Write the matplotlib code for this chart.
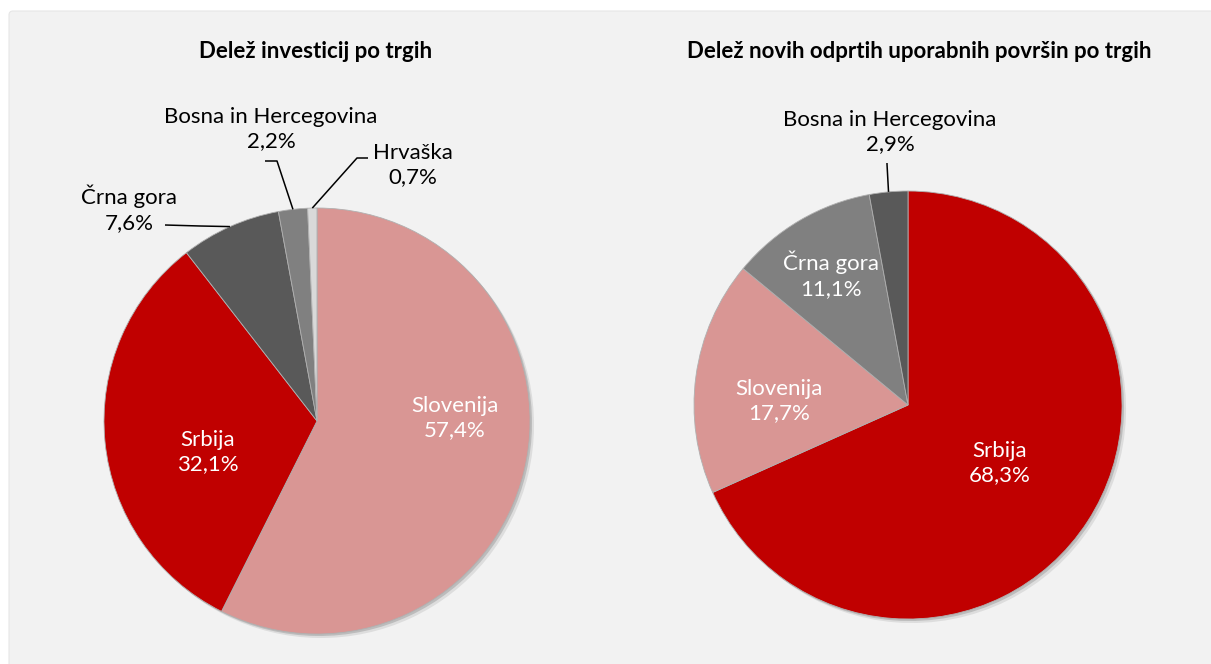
import matplotlib
matplotlib.use("Agg")
import matplotlib.pyplot as plt
from matplotlib.patches import FancyBboxPatch
import numpy as np

plt.rcParams['font.family'] = ['Lato', 'DejaVu Sans']

# data
left_title = 'Delež investicij po trgih'
left_labels = ['Slovenija', 'Srbija', 'Črna gora', 'Bosna in Hercegovina', 'Hrvaška']
left_values = [57.4, 32.1, 7.6, 2.2, 0.7]
left_colors = ['#d99694', '#c00000', '#595959', '#808080', '#d9d9d9']

right_title = 'Delež novih odprtih uporabnih površin po trgih'
right_labels = ['Srbija', 'Slovenija', 'Črna gora', 'Bosna in Hercegovina']
right_values = [68.3, 17.7, 11.1, 2.9]
right_colors = ['#c00000', '#d99694', '#808080', '#595959']

W, H = 1211, 664


def fmt(v):
    return f'{v:.1f}%'.replace('.', ',')


def y(py):
    # pixel row -> data y
    return H - py


def mid_angle(values, i):
    tot = sum(values)
    before = sum(values[:i])
    frac = (before + values[i] / 2) / tot
    return np.deg2rad(90 - 360 * frac)


def draw_pie(ax, values, colors, center, radius, explode):
    # soft shadow first
    for off, a in [(4, 0.18), (2, 0.35)]:
        ax.pie(values, colors=['#7f7f7f'] * len(values), startangle=90,
               counterclock=False, center=(center[0] + off, center[1] - off),
               radius=radius, explode=explode,
               wedgeprops=dict(linewidth=0, alpha=a))
    ax.pie(values, colors=colors, startangle=90, counterclock=False,
           center=center, radius=radius, explode=explode,
           wedgeprops=dict(linewidth=0.6, edgecolor='#b0b0b0'))


fig = plt.figure(figsize=(W / 100, H / 100), dpi=100)
fig.patch.set_facecolor('white')
ax = fig.add_axes([0, 0, 1, 1])

panel = FancyBboxPatch((9, -20), W + 20, y(11) + 20,
                       boxstyle='round,pad=0,rounding_size=4',
                       facecolor='#f2f2f2', edgecolor='#e6e6e6', linewidth=0.8, zorder=-5)
ax.add_patch(panel)

# left pie
lc = (317, y(421))
lr = 213
draw_pie(ax, left_values, left_colors, lc, lr, [0.03, 0, 0, 0, 0])

# right pie
rc = (908, y(405))
rr = 214
draw_pie(ax, right_values, right_colors, rc, rr, [0.028, 0, 0, 0])

ax.set_xlim(0, W)
ax.set_ylim(0, H)
ax.set_aspect('equal')
ax.axis('off')

tkw = dict(ha='center', va='center', fontsize=16, fontweight='bold', color='black')
ax.text(316, y(52), left_title, **tkw)
ax.text(919, y(52), right_title, **tkw)

lkw = dict(ha='center', va='center', fontsize=16, linespacing=1.3)

# inside labels
ax.text(455, y(418), f'{left_labels[0]}\n{fmt(left_values[0])}', color='white', **lkw)
ax.text(208, y(452), f'{left_labels[1]}\n{fmt(left_values[1])}', color='white', **lkw)
ax.text(1000, y(463), f'{right_labels[0]}\n{fmt(right_values[0])}', color='white', **lkw)
ax.text(779, y(401), f'{right_labels[1]}\n{fmt(right_values[1])}', color='white', **lkw)
ax.text(831, y(275), f'{right_labels[2]}\n{fmt(right_values[2])}', color='white', **lkw)

# outside labels with leader lines
def outside(values, i, center, radius, text_xy, elbow, start, labels):
    ax.text(text_xy[0], y(text_xy[1]), f'{labels[i]}\n{fmt(values[i])}',
            color='black', **lkw)
    t = mid_angle(values, i)
    ex = center[0] + radius * np.cos(t)
    ey = center[1] + radius * np.sin(t)
    xs = [start[0], elbow[0], ex]
    ys = [y(start[1]), y(elbow[1]), ey]
    ax.plot(xs, ys, color='black', linewidth=1.1, solid_capstyle='butt')


outside(left_values, 2, lc, lr, (129, 209), (200, 226), (165, 225), left_labels)
outside(left_values, 3, lc, lr, (271, 129), (277, 161), (265, 161), left_labels)
outside(left_values, 4, lc, lr, (413, 165), (357, 158), (368, 158), left_labels)
outside(right_values, 3, rc, rr, (890, 132), (887, 164), (887, 163), right_labels)

fig.savefig('out.png', dpi=100, facecolor='white')
